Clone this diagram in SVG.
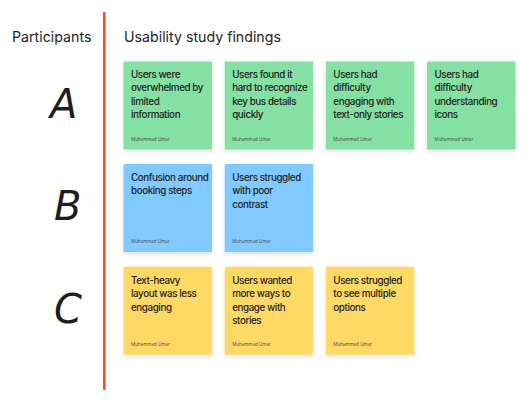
<svg xmlns="http://www.w3.org/2000/svg" width="531" height="405" viewBox="0 0 531 405">
<defs>
<filter id="sh" x="-10%" y="-10%" width="120%" height="130%">
<feDropShadow dx="0" dy="2" stdDeviation="2" flood-color="#000" flood-opacity="0.12"/>
</filter>
</defs>
<style>
.hd{font-family:Inter,"Liberation Sans",sans-serif;font-size:14.2px;fill:#1e1e1e}
.st{font-family:Inter,"Liberation Sans",sans-serif;font-size:9.8px;font-weight:500;letter-spacing:-0.4px;fill:#1e1e1e}
.au{font-family:Inter,"Liberation Sans",sans-serif;font-size:4.6px;fill:#555}
.lt{font-family:"DejaVu Sans","Liberation Sans",sans-serif;font-size:40px;font-style:italic;fill:#1e1e1e}
.g{fill:#85E0A3}.b{fill:#80CAFF}.y{fill:#FFD966}
.n rect{filter:url(#sh)}
</style>
<rect width="531" height="405" fill="#fff"/>
<g id="connectors"></g>
<g id="divider"><line x1="104.3" y1="12" x2="104.3" y2="390" stroke="#F24E1E" stroke-width="2.5"/></g>
<g id="headers">
<text class="hd" x="12" y="42">Participants</text>
<text class="hd" x="124" y="42">Usability study findings</text>
</g>
<g id="letters">
<text class="lt" x="50" y="118">A</text>
<text class="lt" x="54" y="220">B</text>
<text class="lt" x="54" y="323">C</text>
</g>
<g id="a1" class="n"><rect class="g" x="123.5" y="61.5" width="88.5" height="88"/>
<text class="st" x="131" y="78">Users were<tspan x="131" dy="13.3">overwhelmed by</tspan><tspan x="131" dy="13.3">limited</tspan><tspan x="131" dy="13.3">information</tspan></text>
<text class="au" x="131" y="140.5">Muhammad Umar</text></g>
<g id="a2" class="n"><rect class="g" x="224.7" y="61.5" width="88.5" height="88"/>
<text class="st" x="232.2" y="78">Users found it<tspan x="232.2" dy="13.3">hard to recognize</tspan><tspan x="232.2" dy="13.3">key bus details</tspan><tspan x="232.2" dy="13.3">quickly</tspan></text>
<text class="au" x="232.2" y="140.5">Muhammad Umar</text></g>
<g id="a3" class="n"><rect class="g" x="325.8" y="61.5" width="88.5" height="88"/>
<text class="st" x="333.3" y="78">Users had<tspan x="333.3" dy="13.3">difficulty</tspan><tspan x="333.3" dy="13.3">engaging with</tspan><tspan x="333.3" dy="13.3">text-only stories</tspan></text>
<text class="au" x="333.3" y="140.5">Muhammad Umar</text></g>
<g id="a4" class="n"><rect class="g" x="427" y="61.5" width="88.5" height="88"/>
<text class="st" x="434.5" y="78">Users had<tspan x="434.5" dy="13.3">difficulty</tspan><tspan x="434.5" dy="13.3">understanding</tspan><tspan x="434.5" dy="13.3">icons</tspan></text>
<text class="au" x="434.5" y="140.5">Muhammad Umar</text></g>
<g id="b1" class="n"><rect class="b" x="123.5" y="164" width="88.5" height="88"/>
<text class="st" x="131" y="181">Confusion around<tspan x="131" dy="13.3">booking steps</tspan></text>
<text class="au" x="131" y="243">Muhammad Umar</text></g>
<g id="b2" class="n"><rect class="b" x="224.7" y="164" width="88.5" height="88"/>
<text class="st" x="232.2" y="181">Users struggled<tspan x="232.2" dy="13.3">with poor</tspan><tspan x="232.2" dy="13.3">contrast</tspan></text>
<text class="au" x="232.2" y="243">Muhammad Umar</text></g>
<g id="c1" class="n"><rect class="y" x="123.5" y="266.7" width="88.5" height="88"/>
<text class="st" x="131" y="284">Text-heavy<tspan x="131" dy="13.3">layout was less</tspan><tspan x="131" dy="13.3">engaging</tspan></text>
<text class="au" x="131" y="346">Muhammad Umar</text></g>
<g id="c2" class="n"><rect class="y" x="224.7" y="266.7" width="88.5" height="88"/>
<text class="st" x="232.2" y="284">Users wanted<tspan x="232.2" dy="13.3">more ways to</tspan><tspan x="232.2" dy="13.3">engage with</tspan><tspan x="232.2" dy="13.3">stories</tspan></text>
<text class="au" x="232.2" y="346">Muhammad Umar</text></g>
<g id="c3" class="n"><rect class="y" x="325.8" y="266.7" width="88.5" height="88"/>
<text class="st" x="333.3" y="284">Users struggled<tspan x="333.3" dy="13.3">to see multiple</tspan><tspan x="333.3" dy="13.3">options</tspan></text>
<text class="au" x="333.3" y="346">Muhammad Umar</text></g>
</svg>
